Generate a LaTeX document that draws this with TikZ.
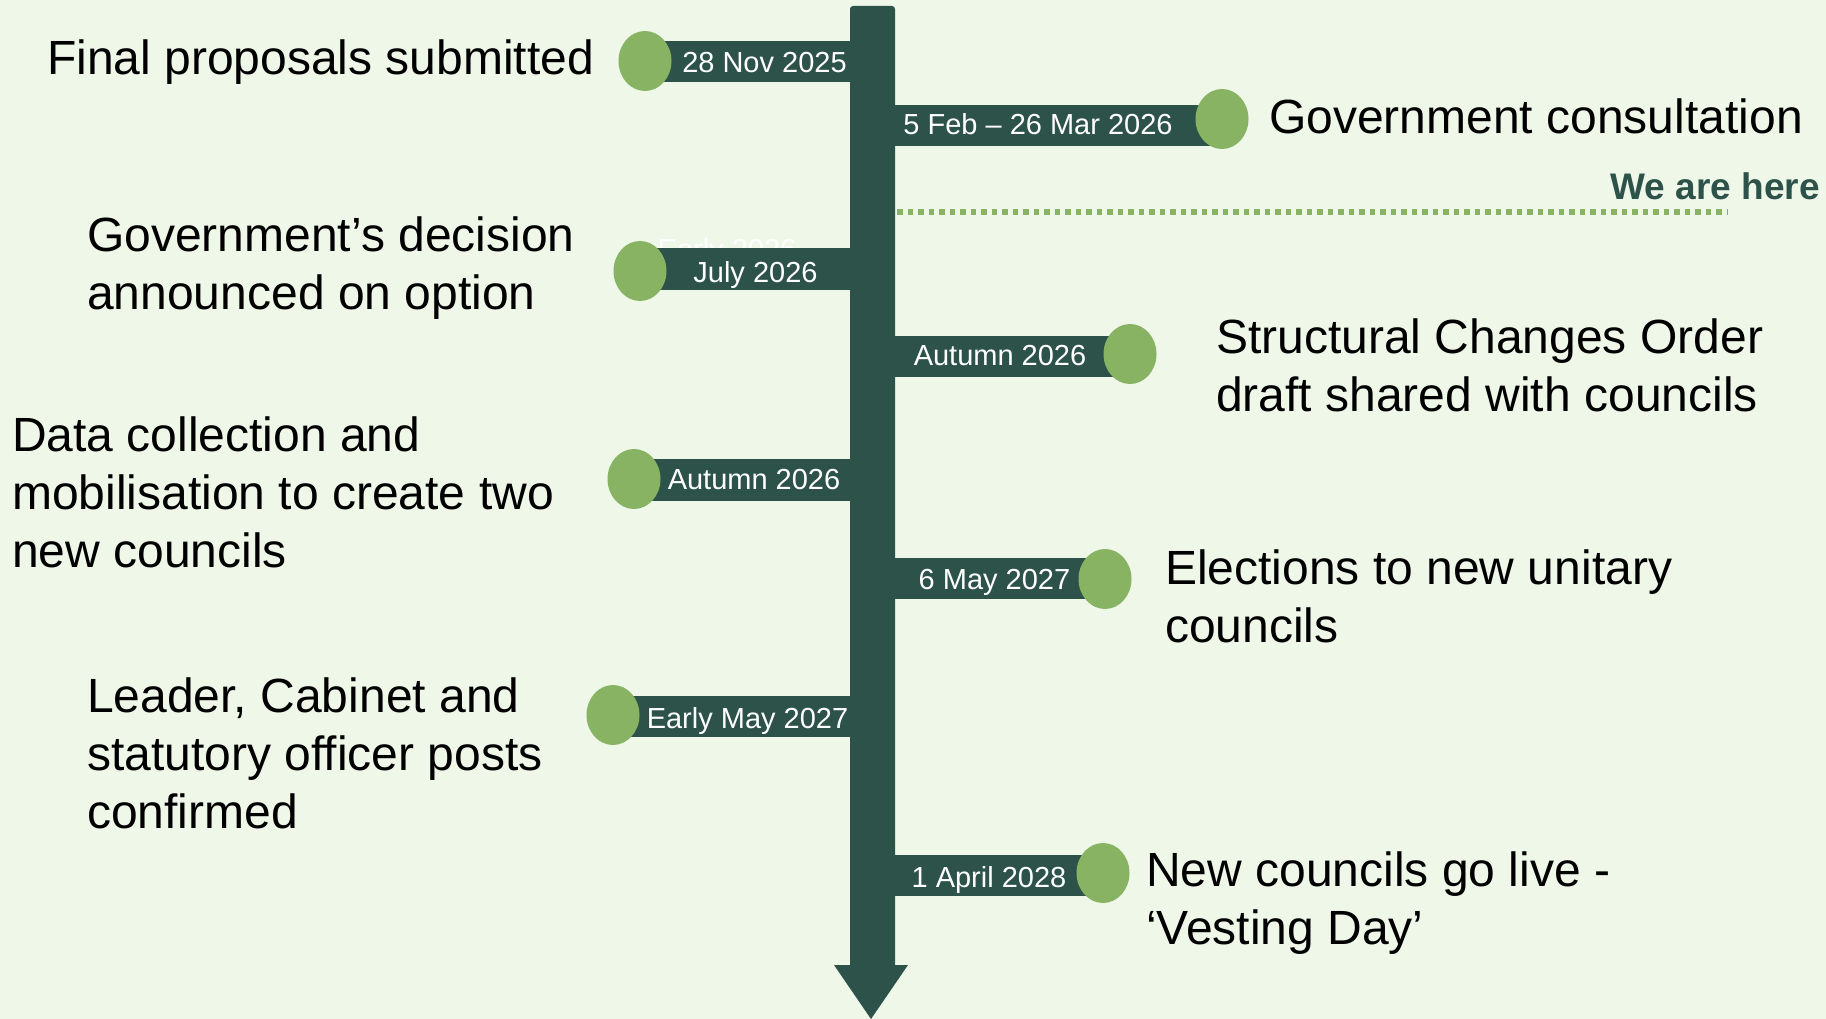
\documentclass[tikz,border=0pt]{standalone}
\usepackage{fontspec}
\setmainfont{Liberation Sans}
\usetikzlibrary{shapes.geometric}
\definecolor{bgc}{HTML}{EFF7E9}
\definecolor{barc}{HTML}{2C524A}
\definecolor{dotc}{HTML}{87B362}
\tikzset{
  tldot/.style={ellipse, fill=dotc, minimum width=53pt, minimum height=60pt, inner sep=0pt},
  datelbl/.style={text=white, font=\fontsize{29}{34}\selectfont, inner sep=0pt, anchor=base},
  evt/.style={font=\fontsize{48}{58}\selectfont, align=left, inner sep=0pt, anchor=base west},
}
\begin{document}
\begin{tikzpicture}[x=1pt,y=-1pt]
\fill[bgc] (0,0) rectangle (1826,1019);
\useasboundingbox (0,0) rectangle (1826,1019);
% faint label hidden behind the July bar
\node[datelbl] (ghost) at (727,259) {Early 2026};
% spine with arrow head
\coordinate (tip) at (871,1019);
\fill[barc] (850,965) -- (850,9) arc[start angle=180,end angle=90,radius=3pt] -- (892,6) arc[start angle=90,end angle=0,radius=3pt] -- (895,965) -- (908,965) -- (tip) -- (834,965) -- cycle;
% branch bars
\fill[barc] (645,41) rectangle (852,82);
\fill[barc] (893,105) rectangle (1222,146);
\fill[barc] (640,248) rectangle (852,290);
\fill[barc] (893,336) rectangle (1130,377);
\fill[barc] (634,459) rectangle (852,501);
\fill[barc] (893,558) rectangle (1105,599);
\fill[barc] (613,696) rectangle (852,737);
\fill[barc] (893,855) rectangle (1103,896);
% circles
\node[tldot] (c1) at (645,61) {};
\node[tldot] (c2) at (1222,119) {};
\node[tldot] (c3) at (640,271) {};
\node[tldot] (c4) at (1130,354) {};
\node[tldot] (c5) at (634,479) {};
\node[tldot] (c6) at (1105,579) {};
\node[tldot] (c7) at (613,715) {};
\node[tldot] (c8) at (1103,873) {};
% date labels
\node[datelbl] (d1) at (764.5,73) {28 Nov 2025};
\node[datelbl] (d2) at (1038,135) {5 Feb – 26 Mar 2026};
\node[datelbl] (d3) at (755.5,282) {July 2026};
\node[datelbl] (d4) at (1000,365) {Autumn 2026};
\node[datelbl] (d5) at (754,489) {Autumn 2026};
\node[datelbl] (d6) at (994.5,589) {6 May 2027};
\node[datelbl] (d7) at (747.5,728) {Early May 2027};
\node[datelbl] (d8) at (989,887) {1 April 2028};
% we are here
\coordinate (here1) at (897,212);
\coordinate (here2) at (1728,212);
\draw[dotc, line width=5.5pt, dash pattern=on 5.5pt off 5pt] (here1) -- (here2);
\node[anchor=base east, inner sep=0pt, text=barc, font=\bfseries\fontsize{37}{44}\selectfont] (here) at (1820,200) {We are here};
% event texts (anchor = baseline of last line)
\node[evt] (e1) at (47,75) {Final proposals submitted};
\node[evt] (e2) at (1269,134) {Government consultation};
\node[evt] (e3) at (87,309) {Government’s decision\\announced on option};
\node[evt] (e4) at (1216,411) {Structural Changes Order\\draft shared with councils};
\node[evt] (e5) at (12,567) {Data collection and\\mobilisation to create two\\new councils};
\node[evt] (e6) at (1165,642) {Elections to new unitary\\councils};
\node[evt] (e7) at (87,828) {Leader, Cabinet and\\statutory officer posts\\confirmed};
\node[evt] (e8) at (1146,944) {New councils go live -\\‘Vesting Day’};
\end{tikzpicture}
\end{document}
